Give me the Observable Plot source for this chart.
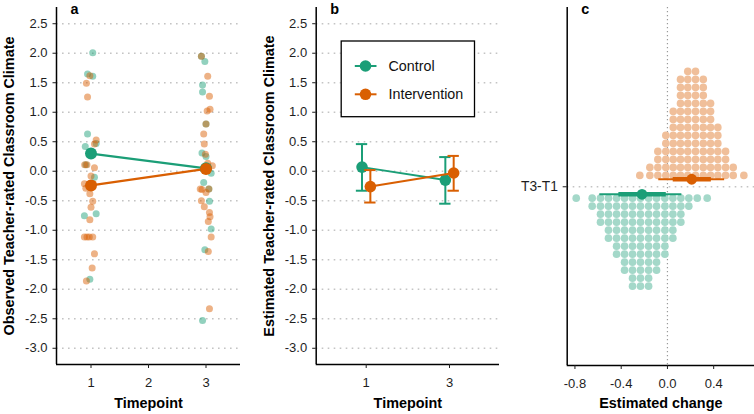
<!DOCTYPE html>
<html>
<head>
<meta charset="utf-8">
<script src="https://cdn.jsdelivr.net/npm/d3@7"></script>
<script src="https://cdn.jsdelivr.net/npm/@observablehq/plot@0.6"></script>
<style>
  body { margin: 0; background: #fff; }
  #fig { position: relative; width: 754px; height: 414px; overflow: hidden; background: #fff; }
  #fig .panel { position: absolute; top: 0; }
  #fig .legend { position: absolute; left: 339.5px; top: 40px; }
</style>
</head>
<body>
<div id="fig">
  <div class="panel" id="pa" style="left:0px"></div>
  <div class="panel" id="pb" style="left:250px"></div>
  <div class="panel" id="pc" style="left:500px"></div>
</div>
<script>
// ---- shared styling ----
const GREEN = "#1B9E77", ORANGE = "#D95F02";
const GREEN_LIGHT = "#a4d8c9", ORANGE_LIGHT = "#f0bf9a";
const FONT = '"Liberation Sans", Arial, Helvetica, sans-serif';
const GRID = "#c4c4c4";

// ---- panel a: observed classroom climate per class (jittered) ----
const climateTicks = [-3.0, -2.5, -2.0, -1.5, -1.0, -0.5, 0.0, 0.5, 1.0, 1.5, 2.0, 2.5];
const climateDomain = [-3.275, 2.775];
const timepointTicksA = [1, 2, 3];

const controlObsTime  = [1.03, 0.94, 1.03, 0.94, 0.90, 1.09, 0.91, 1.06, 0.885, 1.09, 0.98,
                         2.92, 2.98, 2.94, 2.94, 3.00, 2.93, 3.00, 3.09, 2.96, 3.05, 3.06, 3.09, 2.98, 2.94];
const controlObsScore = [2.01, 1.65, 1.61, 0.63, 0.42, 0.47, 0.11, -0.10, -0.755, -0.72, -1.83,
                         1.95, 1.86, 1.46, 1.345, 0.80, 0.31, 0.25, -0.035, -0.19, -0.30, -0.51, -0.98, -1.33, -2.53];

const interventionObsTime  = [0.98, 0.92, 0.94, 1.09, 1.06, 0.89, 0.93, 1.06, 1.00, 0.885, 0.91, 1.04,
                              0.98, 1.03, 1.00, 0.98, 0.885, 0.93, 0.97, 1.03, 1.06, 1.02, 0.92,
                              2.92, 3.03, 3.06, 3.07, 3.02, 3.00, 2.96, 2.97, 2.99, 3.03, 3.11, 2.90,
                              2.93, 3.05, 3.00, 2.92, 2.97, 3.06, 3.07, 3.04, 3.09, 3.04, 3.06];
const interventionObsScore = [1.62, 1.49, 1.26, 0.53, 0.46, 0.11, 0.11, 0.06, -0.08, -0.21, -0.29, -0.21,
                              -0.38, -0.51, -0.61, -0.82, -1.115, -1.115, -1.115, -1.115, -1.40, -1.64, -1.86,
                              1.95, 1.61, 1.27, 1.05, 1.02, 0.80, 0.63, 0.46, 0.29, 0.135, 0.095, -0.30,
                              -0.31, -0.30, -0.36, -0.50, -0.60, -0.70, -0.77, -0.85, -1.115, -1.36, -2.33];

const meanTimepoints = [1, 3];
const controlObsMean = [0.30, 0.05];
const interventionObsMean = [-0.24, 0.04];

// ---- panel b: model estimates with confidence intervals ----
const timepointLabelsB = ["1", "3"];
const controlEst = [0.07, -0.15];
const controlLo  = [-0.33, -0.55];
const controlHi  = [0.46, 0.24];
const interventionEst = [-0.26, -0.03];
const interventionLo  = [-0.53, -0.33];
const interventionHi  = [0.02, 0.26];
const legendLabels = ["Control", "Intervention"];

// ---- panel c: posterior draws of change T3-T1 (binned dot stacks) ----
const interventionChangeBins   = [-0.239, -0.152, -0.083, -0.014, 0.050, 0.113, 0.176, 0.243, 0.310, 0.373, 0.436, 0.503, 0.569, 0.661];
const interventionChangeCounts = [1, 2, 4, 6, 9, 13, 14, 14, 13, 10, 7, 4, 2, 1];
const controlChangeBins   = [-0.789, -0.651, -0.579, -0.510, -0.440, -0.371, -0.302, -0.233, -0.163, -0.094, -0.022, 0.047, 0.116, 0.185, 0.258, 0.344];
const controlChangeCounts = [1, 2, 4, 6, 8, 10, 12, 12, 12, 10, 8, 6, 4, 2, 1, 1];
const changeGroups = ["Control", "Intervention"];
const changeMedian = [-0.22, 0.21];
const changeLo66   = [-0.42, 0.05];
const changeHi66   = [-0.01, 0.38];
const changeLo95   = [-0.585, -0.075];
const changeHi95   = [0.125, 0.495];
const changeTicks  = [-0.8, -0.4, 0.0, 0.4];
const changeDomain = [-0.867, 0.753];
const contrastLabel = "T3-T1";

// ---- helpers ----
const baseStyle = {fontFamily: FONT, fontSize: "13px", color: "#1e1e1e", background: "transparent", overflow: "visible"};
const fmt1 = d => d.toFixed(1);

function axisLines(xDomain, yDomain) {
  return [
    Plot.ruleX([xDomain[0]], {stroke: "#000", strokeWidth: 1.5}),
    Plot.ruleY([yDomain[0]], {stroke: "#000", strokeWidth: 1.5})
  ];
}
function panelTag(letter) {
  return Plot.text([letter], {text: d => d, frameAnchor: "top-left", textAnchor: "start", lineAnchor: "top",
    dx: 14, dy: -3.9, fontWeight: "bold", fontSize: 14.4, fill: "#000"});
}
function yTitle(label) {
  return Plot.text([label], {text: d => d, frameAnchor: "left", textAnchor: "middle", rotate: -90, dx: -47,
    fontWeight: "bold", fontSize: 14.4, fill: "#000"});
}
function xTitle(label, dy) {
  return Plot.text([label], {text: d => d, frameAnchor: "bottom", textAnchor: "middle", lineAnchor: "top", dy,
    fontWeight: "bold", fontSize: 14.4, fill: "#000"});
}
const zip = (xs, ys) => xs.map((x, i) => ({x, y: ys[i]}));

// ---- panel a ----
const xDomainA = [0.4, 3.6];
const plotA = Plot.plot({
  width: 250, height: 414,
  marginLeft: 56, marginRight: 10, marginTop: 7, marginBottom: 50,
  x: {domain: xDomainA},
  y: {domain: climateDomain},
  style: baseStyle,
  marks: [
    Plot.ruleY(climateTicks, {stroke: GRID, strokeWidth: 1.6, strokeDasharray: "1.6,4.4"}),
    Plot.dot(zip(controlObsTime, controlObsScore), {x: "x", y: "y", r: 3.5, fill: GREEN, fillOpacity: 0.48}),
    Plot.dot(zip(interventionObsTime, interventionObsScore), {x: "x", y: "y", r: 3.5, fill: ORANGE, fillOpacity: 0.48}),
    Plot.line(zip(meanTimepoints, controlObsMean), {x: "x", y: "y", stroke: GREEN, strokeWidth: 2.2}),
    Plot.line(zip(meanTimepoints, interventionObsMean), {x: "x", y: "y", stroke: ORANGE, strokeWidth: 2.2}),
    Plot.dot(zip(meanTimepoints, controlObsMean), {x: "x", y: "y", r: 6, fill: GREEN}),
    Plot.dot(zip(meanTimepoints, interventionObsMean), {x: "x", y: "y", r: 6, fill: ORANGE}),
    ...axisLines(xDomainA, climateDomain),
    Plot.axisY(climateTicks, {tickSize: 3.5, tickPadding: 5.5, tickFormat: fmt1, fontSize: 13, label: null}),
    Plot.axisX(timepointTicksA, {tickSize: 4, tickPadding: 9.5, fontSize: 13, label: null}),
    panelTag("a"),
    yTitle("Observed Teacher-rated Classroom Climate"),
    xTitle("Timepoint", 33.1)
  ]
});
document.getElementById("pa").append(plotA);

// ---- panel b ----
const xDomainB = [0.4, 2.6];
const dodge = 0.05, capHalf = 0.068;
function estRows(group, est, lo, hi, shift) {
  return est.map((v, i) => ({group, pos: i + 1 + shift, est: v, lo: lo[i], hi: hi[i]}));
}
const estControl = estRows("Control", controlEst, controlLo, controlHi, -dodge);
const estIntervention = estRows("Intervention", interventionEst, interventionLo, interventionHi, dodge);
function estMarks(rows, color) {
  return [
    Plot.line(rows, {x: "pos", y: "est", stroke: color, strokeWidth: 2}),
    Plot.ruleX(rows, {x: "pos", y1: "lo", y2: "hi", stroke: color, strokeWidth: 2}),
    Plot.ruleY(rows, {y: "lo", x1: d => d.pos - capHalf, x2: d => d.pos + capHalf, stroke: color, strokeWidth: 2}),
    Plot.ruleY(rows, {y: "hi", x1: d => d.pos - capHalf, x2: d => d.pos + capHalf, stroke: color, strokeWidth: 2}),
    Plot.dot(rows, {x: "pos", y: "est", r: 5.8, fill: color})
  ];
}
const plotB = Plot.plot({
  width: 250, height: 414,
  marginLeft: 65.7, marginRight: 1, marginTop: 7, marginBottom: 50,
  x: {domain: xDomainB},
  y: {domain: climateDomain},
  style: baseStyle,
  marks: [
    Plot.ruleY(climateTicks, {stroke: GRID, strokeWidth: 1.6, strokeDasharray: "1.6,4.4"}),
    ...estMarks(estControl, GREEN),
    ...estMarks(estIntervention, ORANGE),
    ...axisLines(xDomainB, climateDomain),
    Plot.axisY(climateTicks, {tickSize: 3.5, tickPadding: 5.5, tickFormat: fmt1, fontSize: 13, label: null}),
    Plot.axisX([1, 2], {tickSize: 4, tickPadding: 9.5, tickFormat: i => timepointLabelsB[i - 1], fontSize: 13, label: null}),
    panelTag("b"),
    yTitle("Estimated Teacher-rated Classroom Climate"),
    xTitle("Timepoint", 33.1)
  ]
});
document.getElementById("pb").append(plotB);

// legend for panels a and b
(function () {
  const colors = [GREEN, ORANGE];
  const svg = d3.create("svg").attr("class", "legend").attr("width", 137).attr("height", 79)
    .style("font-family", FONT);
  svg.append("rect").attr("x", 1.2).attr("y", 1).attr("width", 133.3).attr("height", 75.7)
    .attr("fill", "#fff").attr("stroke", "#000").attr("stroke-width", 1.3);
  legendLabels.forEach((label, i) => {
    const cy = 26 + i * 28.3;
    svg.append("line").attr("x1", 14.8).attr("x2", 36.5).attr("y1", cy).attr("y2", cy)
      .attr("stroke", colors[i]).attr("stroke-width", 2);
    svg.append("circle").attr("cx", 25.5).attr("cy", cy).attr("r", 5.8).attr("fill", colors[i]);
    svg.append("text").attr("x", 48.5).attr("y", cy + 5.1).attr("font-size", 14.3).attr("fill", "#111").text(label);
  });
  document.getElementById("fig").append(svg.node());
})();

// ---- panel c ----
const rowDomain = [-22.34, 22.41];
const stackOffset = 1.42, intervalOffset = 0.94;
function stackDots(bins, counts, dir) {
  const out = [];
  bins.forEach((b, i) => {
    for (let k = 0; k < counts[i]; k++) out.push({x: b, y: dir * (stackOffset + k)});
  });
  return out;
}
const intervals = changeGroups.map((g, i) => ({
  group: g, y: g === "Control" ? -intervalOffset : intervalOffset,
  med: changeMedian[i], lo66: changeLo66[i], hi66: changeHi66[i], lo95: changeLo95[i], hi95: changeHi95[i]
}));
const groupColor = g => g === "Control" ? GREEN : ORANGE;
const plotC = Plot.plot({
  width: 254, height: 414,
  marginLeft: 66.7, marginRight: 0, marginTop: 7, marginBottom: 49,
  x: {domain: changeDomain},
  y: {domain: rowDomain},
  style: baseStyle,
  marks: [
    Plot.ruleY([0], {stroke: GRID, strokeWidth: 1.6, strokeDasharray: "1.6,4.4"}),
    Plot.ruleX([0], {stroke: "#9a9a9a", strokeWidth: 1.2, strokeDasharray: "1.2,2.8"}),
    Plot.dot(stackDots(interventionChangeBins, interventionChangeCounts, 1), {x: "x", y: "y", r: 3.8, fill: ORANGE_LIGHT}),
    Plot.dot(stackDots(controlChangeBins, controlChangeCounts, -1), {x: "x", y: "y", r: 3.8, fill: GREEN_LIGHT}),
    Plot.ruleY(intervals, {y: "y", x1: "lo95", x2: "hi95", stroke: d => groupColor(d.group), strokeWidth: 2}),
    Plot.ruleY(intervals, {y: "y", x1: "lo66", x2: "hi66", stroke: d => groupColor(d.group), strokeWidth: 4.5}),
    Plot.dot(intervals, {x: "med", y: "y", r: 5.4, fill: d => groupColor(d.group)}),
    ...axisLines(changeDomain, rowDomain),
    Plot.axisY([0], {tickSize: 4, tickPadding: 5.4, tickFormat: () => contrastLabel, fontSize: 13.8, label: null}),
    Plot.axisX(changeTicks, {tickSize: 4, tickPadding: 9, tickFormat: fmt1, fontSize: 13, label: null}),
    panelTag("c"),
    xTitle("Estimated change", 32.1)
  ]
});
document.getElementById("pc").append(plotC);
</script>
</body>
</html>
